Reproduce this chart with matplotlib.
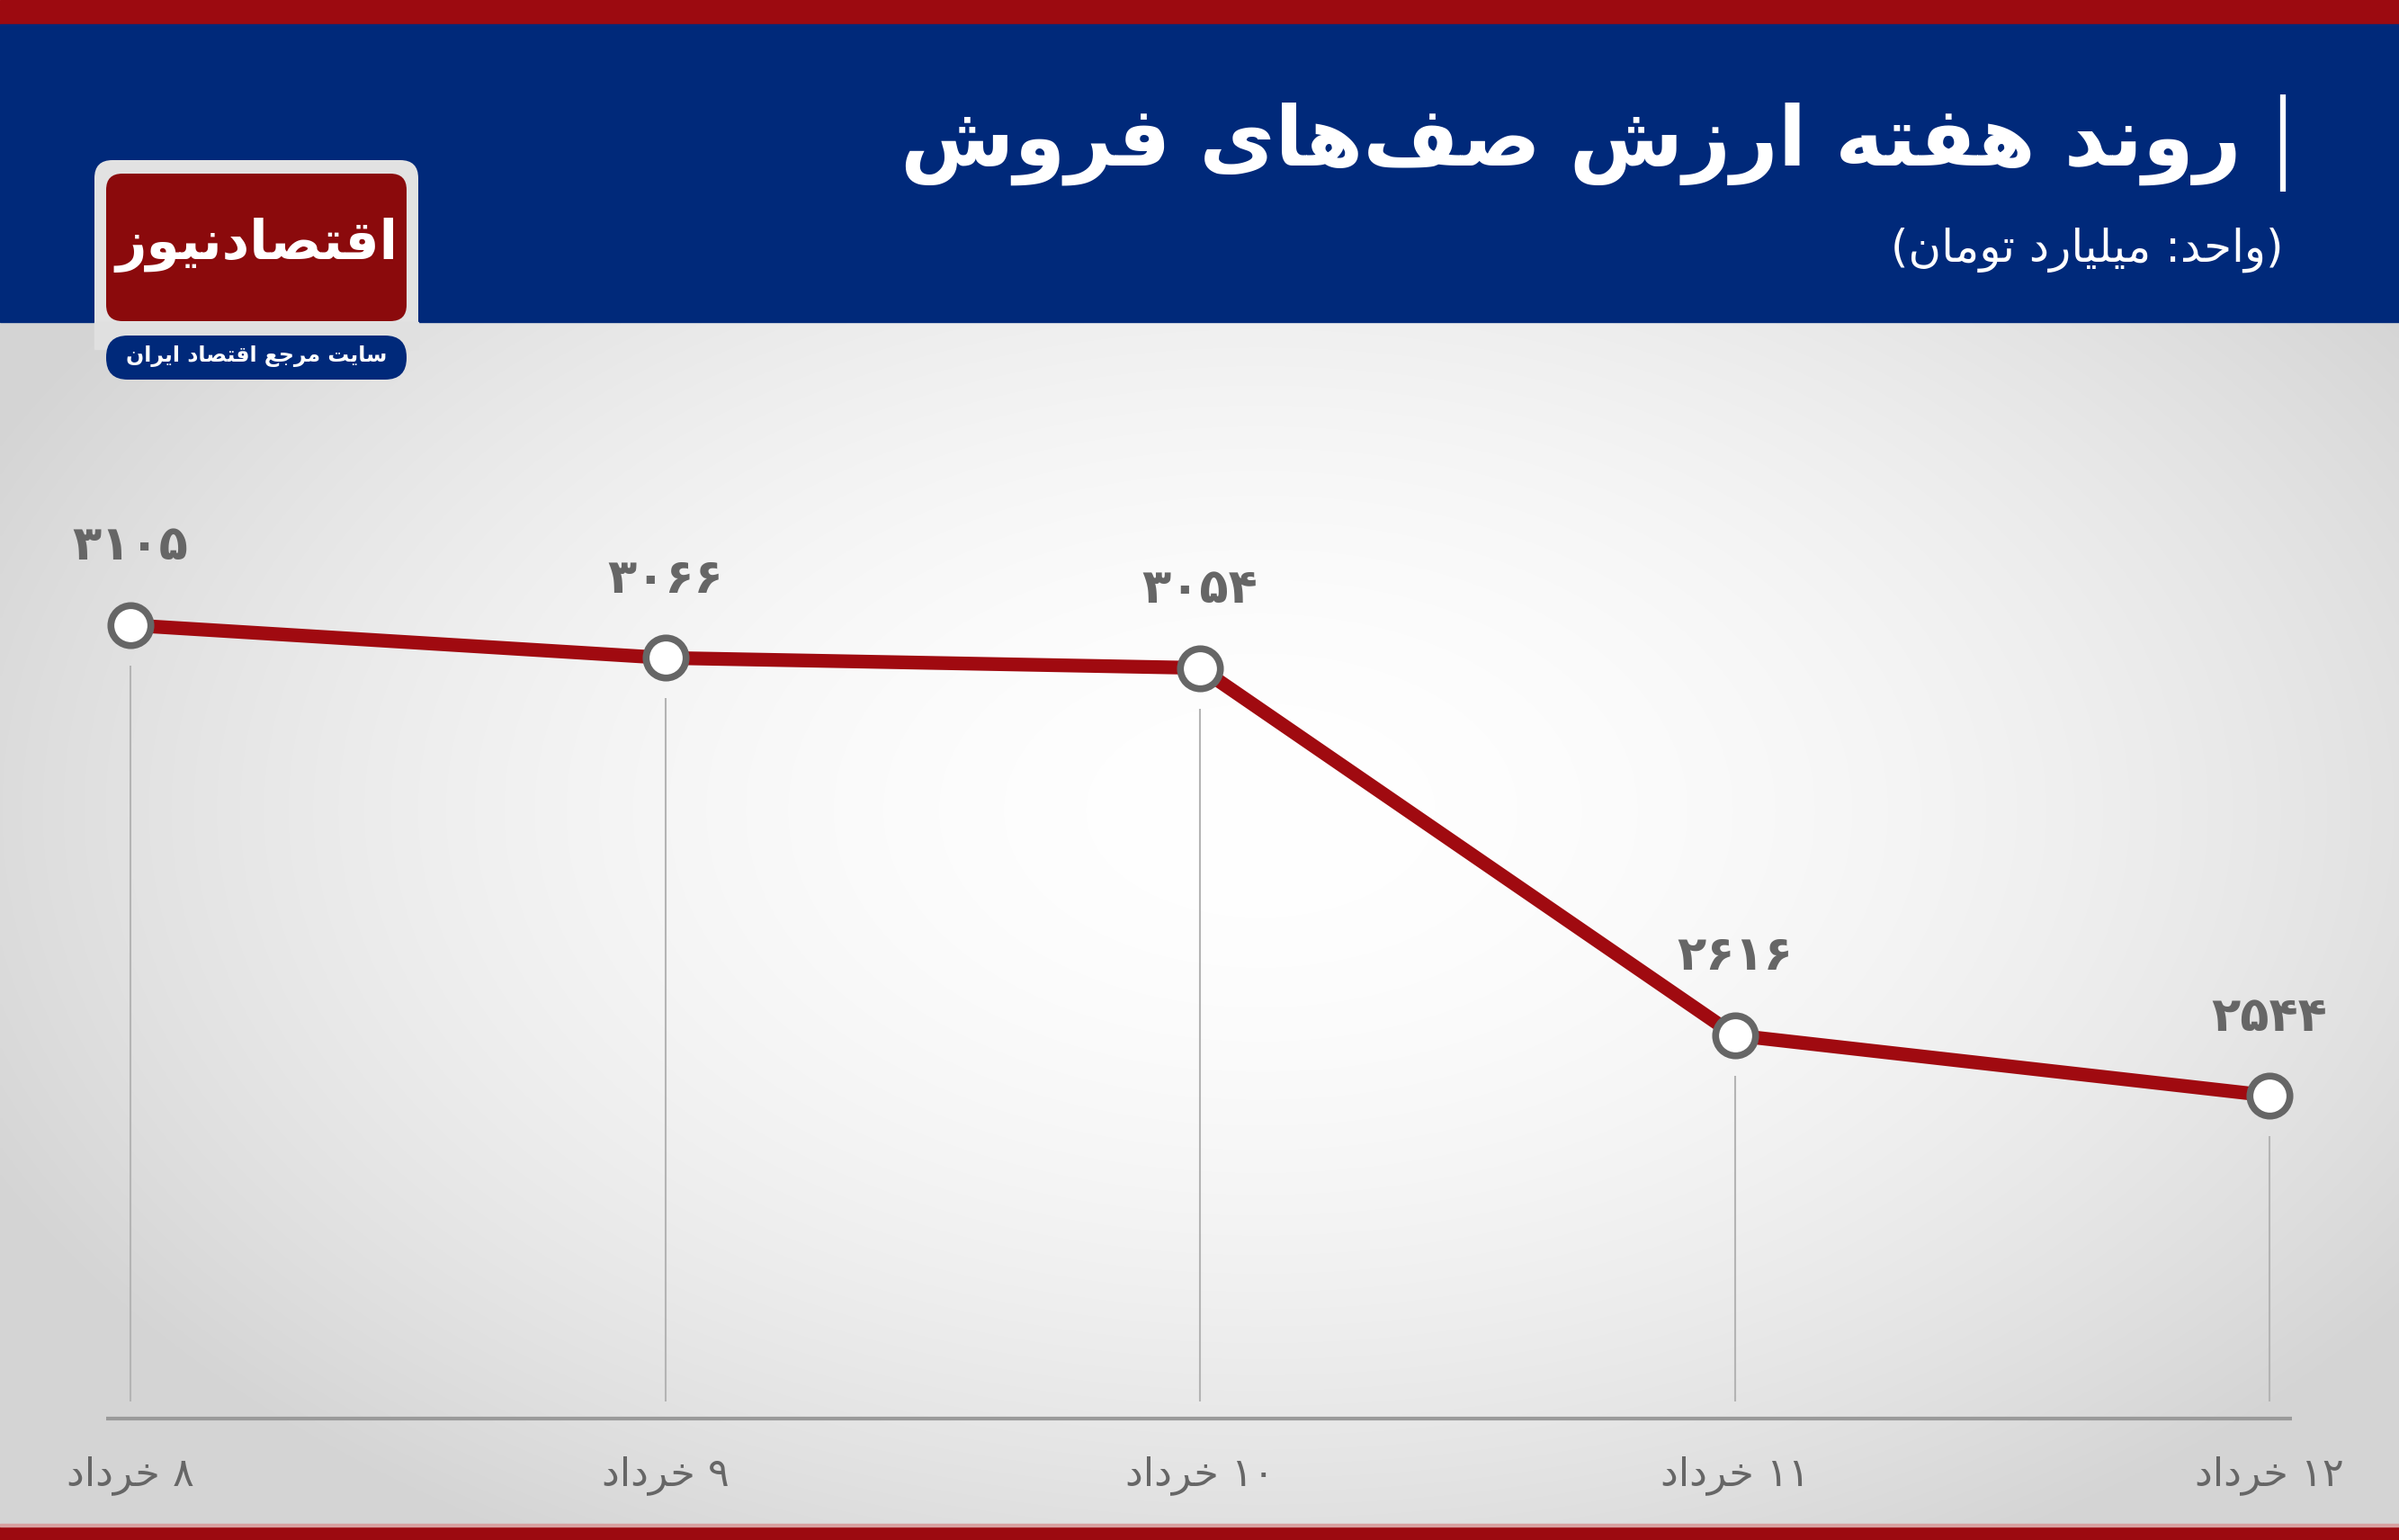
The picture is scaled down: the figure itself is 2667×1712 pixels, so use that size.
import numpy as np
import matplotlib
matplotlib.use("Agg")
import matplotlib.pyplot as plt
from matplotlib.patches import Rectangle, FancyBboxPatch
from matplotlib.transforms import blended_transform_factory

# ---------------- data ----------------
dates = ['۸ خرداد', '۹ خرداد', '۱۰ خرداد', '۱۱ خرداد', '۱۲ خرداد']
values = [3105, 3066, 3054, 2616, 2544]
title = 'روند هفته ارزش صف\u200cهای فروش'
subtitle = '(واحد: میلیارد تومان)'
logo_text = 'اقتصادنیوز'
logo_sub = 'سایت مرجع اقتصاد ایران'

# ---------------- minimal Persian shaping ----------------
FORMS = {
    '\u0627': ('\uFE8D', '\uFE8E', None, None),
    '\u0622': ('\uFE81', '\uFE82', None, None),
    '\u0628': ('\uFE8F', '\uFE90', '\uFE91', '\uFE92'),
    '\u067E': ('\uFB56', '\uFB57', '\uFB58', '\uFB59'),
    '\u062A': ('\uFE95', '\uFE96', '\uFE97', '\uFE98'),
    '\u062C': ('\uFE9D', '\uFE9E', '\uFE9F', '\uFEA0'),
    '\u062D': ('\uFEA1', '\uFEA2', '\uFEA3', '\uFEA4'),
    '\u062E': ('\uFEA5', '\uFEA6', '\uFEA7', '\uFEA8'),
    '\u062F': ('\uFEA9', '\uFEAA', None, None),
    '\u0631': ('\uFEAD', '\uFEAE', None, None),
    '\u0632': ('\uFEAF', '\uFEB0', None, None),
    '\u0633': ('\uFEB1', '\uFEB2', '\uFEB3', '\uFEB4'),
    '\u0634': ('\uFEB5', '\uFEB6', '\uFEB7', '\uFEB8'),
    '\u0635': ('\uFEB9', '\uFEBA', '\uFEBB', '\uFEBC'),
    '\u0639': ('\uFEC9', '\uFECA', '\uFECB', '\uFECC'),
    '\u0641': ('\uFED1', '\uFED2', '\uFED3', '\uFED4'),
    '\u0642': ('\uFED5', '\uFED6', '\uFED7', '\uFED8'),
    '\u0644': ('\uFEDD', '\uFEDE', '\uFEDF', '\uFEE0'),
    '\u0645': ('\uFEE1', '\uFEE2', '\uFEE3', '\uFEE4'),
    '\u0646': ('\uFEE5', '\uFEE6', '\uFEE7', '\uFEE8'),
    '\u0647': ('\uFEE9', '\uFEEA', '\uFEEB', '\uFEEC'),
    '\u0648': ('\uFEED', '\uFEEE', None, None),
    '\u06CC': ('\uFEEF', '\uFEF0', '\uFEF3', '\uFEF4'),
}


def _dual(c):
    return c in FORMS and FORMS[c][2] is not None


def fa(s):
    chars = list(s)
    n = len(chars)
    out = []
    for i, c in enumerate(chars):
        if c in FORMS:
            p = chars[i - 1] if i > 0 else None
            nx = chars[i + 1] if i + 1 < n else None
            jp = p is not None and _dual(p)
            jn = _dual(c) and nx is not None and nx in FORMS
            f = FORMS[c]
            if jp and jn:
                g = f[3]
            elif jp:
                g = f[1]
            elif jn:
                g = f[2]
            else:
                g = f[0]
            out.append(g)
        elif c == '\u200c':
            continue
        else:
            out.append(c)
    out = out[::-1]
    res, run = [], []

    def isltr(ch):
        return ch.isdigit() or ('a' <= ch.lower() <= 'z')
    for ch in out:
        if isltr(ch):
            run.append(ch)
        else:
            if run:
                res.extend(run[::-1])
                run = []
            res.append({'(': ')', ')': '('}.get(ch, ch))
    if run:
        res.extend(run[::-1])
    return ''.join(res)


def fa_num(v):
    return str(v).translate(str.maketrans('0123456789', '۰۱۲۳۴۵۶۷۸۹'))


# ---------------- figure ----------------
W, H = 2667, 1712
fig = plt.figure(figsize=(W / 100, H / 100), dpi=100)
bg = fig.add_axes([0, 0, 1, 1])
bg.set_xlim(0, W)
bg.set_ylim(H, 0)
bg.axis('off')

RED = '#9c0a10'
NAVY = '#00297a'
HEADER_BOTTOM = 358

# body gradient
yy, xx = np.mgrid[HEADER_BOTTOM:H:4, 0:W:4]
t = np.sqrt(((xx - 1400) / 1550.0) ** 2 + ((yy - 900) / 950.0) ** 2)
t = np.clip(t, 0, 1) ** 1.8
g = 1 - 0.165 * t
img = np.dstack([g, g, g])
bg.imshow(img, extent=(0, W, H, HEADER_BOTTOM), aspect='auto', interpolation='bilinear', zorder=0)

# header and stripes
bg.add_patch(Rectangle((0, 0), W, 27, color=RED, zorder=1))
bg.add_patch(Rectangle((0, 27), W, HEADER_BOTTOM - 27, color=NAVY, zorder=1))
bg.add_patch(Rectangle((0, 1697), W, 15, color=RED, zorder=1))
bg.add_patch(Rectangle((0, 1694), W, 3, color='#d8a0a0', zorder=1))

# logo
bg.add_patch(FancyBboxPatch((105, 178), 360, 200, boxstyle='round,pad=0,rounding_size=20',
                            fc='#e2e2e2', ec='none', zorder=2))
bg.add_patch(Rectangle((105, HEADER_BOTTOM), 360, 30, color='#e0e0e0', zorder=2))
bg.add_patch(FancyBboxPatch((118, 193), 334, 164, boxstyle='round,pad=0,rounding_size=18',
                            fc='#8b0a0c', ec='none', zorder=3))
bg.text(285, 272, fa(logo_text), color='white', fontsize=43, fontweight='bold',
        family='DejaVu Sans', ha='center', va='center', zorder=4)
bg.add_patch(FancyBboxPatch((118, 373), 334, 49, boxstyle='round,pad=0,rounding_size=24',
                            fc=NAVY, ec='none', zorder=3))
bg.text(285, 396, fa(logo_sub), color='white', fontsize=17, fontweight='bold',
        family='DejaVu Sans', ha='center', va='center', zorder=4)

# title
bg.plot([2538, 2538], [105, 213], color='white', lw=4.5, solid_capstyle='butt', zorder=4)
bg.text(2492, 160, fa(title), color='white', fontsize=66, fontweight='bold',
        family='DejaVu Sans', ha='right', va='center', zorder=4)
bg.text(2538, 278, fa(subtitle), color='white', fontsize=36,
        family='DejaVu Sans', ha='right', va='center', zorder=4)

# baseline
bg.plot([118, 2548], [1577, 1577], color='#9a9a9a', lw=3, solid_capstyle='butt', zorder=2)

# ---------------- chart axes ----------------
x = np.arange(len(values))
left_px, right_px = 145, 2523
top_px, bot_px = 695, 1218
ax = fig.add_axes([left_px / W, 1 - bot_px / H, (right_px - left_px) / W, (bot_px - top_px) / H])
ax.patch.set_alpha(0)
ax.axis('off')
ax.set_xlim(0, len(values) - 1)
ax.set_ylim(min(values), max(values))

# vertical guide lines
ppu = (bot_px - top_px) / (max(values) - min(values))
gap = 45 / ppu
grid_bottom_px = 1558
v_bottom = min(values) - (grid_bottom_px - bot_px) / ppu
ax.vlines(x, v_bottom, np.array(values) - gap, color='#b4b4b4', lw=1.5, zorder=1, clip_on=False)

ax.plot(x, values, color='#a00a10', lw=11, zorder=3, clip_on=False,
        solid_capstyle='round', solid_joinstyle='round')
ax.plot(x, values, ls='none', marker='o', ms=32, mfc='white', mec='#666666', mew=5.5,
        zorder=4, clip_on=False)

for xi, v in zip(x, values):
    ax.annotate(fa_num(v), (xi, v), xytext=(0, 63), textcoords='offset points',
                ha='center', va='center', color='#666666', fontsize=38, fontweight='bold',
                family='DejaVu Sans', zorder=5, annotation_clip=False)

tb = blended_transform_factory(ax.transData, fig.transFigure)
for xi, d in zip(x, dates):
    ax.text(xi, 1 - 1640 / H, fa(d), transform=tb, ha='center', va='center',
            color='#666666', fontsize=32, family='DejaVu Sans', clip_on=False)

fig.savefig('out.png', dpi=100)
